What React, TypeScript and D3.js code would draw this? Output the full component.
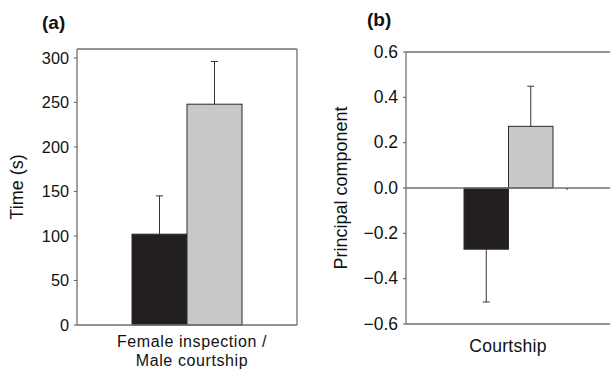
import React, { useEffect, useRef } from "react";
import * as d3 from "d3";

// series order: black bar first, grey bar second
const seriesColors = ["#231f20", "#c7c8ca"];

// panel (a)
const timeTicks = [0, 50, 100, 150, 200, 250, 300];
const timeMeans = [102, 248];
const timeErrTops = [145, 296];
const timeLabel = ["Female inspection /", "Male courtship"];

// panel (b)
const pcTicks = [-0.6, -0.4, -0.2, 0, 0.2, 0.4, 0.6];
const pcMeans = [-0.27, 0.272];
const pcErrEnds = [-0.503, 0.449];
const pcLabel = ["Courtship"];

const W = 610;
const H = 373;
const FONT = "'Liberation Sans', Arial, sans-serif";

export default function App() {
    const svgRef = useRef<SVGSVGElement | null>(null);

    useEffect(() => {
        document.body.style.margin = "0";
        if (!svgRef.current) return;
        const svg = d3.select(svgRef.current);
        svg.selectAll("*").remove();

        function label(
            g: d3.Selection<SVGGElement, unknown, null, undefined>,
            x: number, y: number, txt: string, anchor: string,
            size = 16, extra = ""
        ) {
            return g.append("text")
                .attr("transform", `translate(${x},${y})${extra}`)
                .attr("text-anchor", anchor)
                .attr("font-family", FONT)
                .attr("font-size", size)
                .attr("fill", "#111")
                .text(txt);
        }

        function drawPanel(opts: {
            left: number; right: number; top: number; bottom: number;
            domain: [number, number]; ticks: number[]; fmt: (d: number) => string; tickSize: number;
            means: number[]; errs: number[]; barX: [number, number];
            boxRight: boolean; zeroLine: boolean;
            yTitle: string; yTitleX: number; xLabel: string[]; xLabelX: number; xLabelY: number;
            tag: string; tagX: number; tagY: number;
        }) {
            const y = d3.scaleLinear().domain(opts.domain).range([opts.bottom, opts.top]);
            const x = d3.scaleBand<number>()
                .domain(opts.means.map((_, i) => i))
                .range(opts.barX)
                .paddingInner(0);
            const g = svg.append("g");

            // y ticks + labels
            opts.ticks.forEach(t => {
                g.append("line")
                    .attr("x1", opts.left - 3).attr("x2", opts.left)
                    .attr("y1", y(t)).attr("y2", y(t))
                    .attr("stroke", "#555");
                label(g, opts.left - 8, y(t) + 5.7, opts.fmt(t), "end", opts.tickSize);
            });

            // bars
            const y0 = y(0);
            g.selectAll("rect.bar")
                .data(opts.means)
                .join("rect")
                .attr("class", "bar")
                .attr("x", (_, i) => x(i)!)
                .attr("width", x.bandwidth())
                .attr("y", d => Math.min(y(d), y0))
                .attr("height", d => Math.abs(y(d) - y0))
                .attr("fill", (_, i) => seriesColors[i])
                .attr("stroke", "#2a2a2a")
                .attr("stroke-width", 1);

            // error bars
            const cap = 7;
            opts.means.forEach((m, i) => {
                const cx = x(i)! + x.bandwidth() / 2;
                g.append("line")
                    .attr("x1", cx).attr("x2", cx)
                    .attr("y1", y(m)).attr("y2", y(opts.errs[i]))
                    .attr("stroke", "#333").attr("stroke-width", 1);
                g.append("line")
                    .attr("x1", cx - cap / 2).attr("x2", cx + cap / 2)
                    .attr("y1", y(opts.errs[i])).attr("y2", y(opts.errs[i]))
                    .attr("stroke", "#333").attr("stroke-width", 1);
            });

            // frame
            const frameColor = "#707070";
            const hline = (yy: number) => g.append("line")
                .attr("x1", opts.left).attr("x2", opts.right)
                .attr("y1", yy).attr("y2", yy)
                .attr("stroke", frameColor).attr("stroke-width", 1.3);
            g.append("line")
                .attr("x1", opts.left).attr("x2", opts.left)
                .attr("y1", opts.top).attr("y2", opts.bottom)
                .attr("stroke", frameColor).attr("stroke-width", 1.3);
            hline(opts.top);
            hline(opts.bottom);
            if (opts.boxRight) {
                g.append("line")
                    .attr("x1", opts.right).attr("x2", opts.right)
                    .attr("y1", opts.top).attr("y2", opts.bottom)
                    .attr("stroke", frameColor).attr("stroke-width", 1.3);
            }
            if (opts.zeroLine) {
                hline(y0);
                // small category ticks on the zero line
                [opts.barX[1] + 14, opts.barX[1] + 58].forEach(tx => {
                    g.append("line")
                        .attr("x1", tx).attr("x2", tx)
                        .attr("y1", y0).attr("y2", y0 + 2)
                        .attr("stroke", "#444").attr("stroke-width", 1);
                });
            }

            // y title
            const yMid = (opts.top + opts.bottom) / 2;
            label(g, opts.yTitleX, yMid, opts.yTitle, "middle", 18, " rotate(-90)");

            // x label, one line per entry
            opts.xLabel.forEach((line, i) => {
                label(g, opts.xLabelX, opts.xLabelY + i * 18.5, line, "middle", opts.xLabel.length > 1 ? 16 : 17.5)
                    .attr("letter-spacing", opts.xLabel.length > 1 ? 0.6 : 0.3);
            });

            // panel tag
            label(g, opts.tagX, opts.tagY, opts.tag, "start", 19).attr("font-weight", "bold");
        }

        drawPanel({
            left: 77, right: 297, top: 49, bottom: 325,
            domain: [0, 310], ticks: timeTicks, fmt: d => String(d), tickSize: 16.3,
            means: timeMeans, errs: timeErrTops, barX: [132, 242],
            boxRight: true, zeroLine: false,
            yTitle: "Time (s)", yTitleX: 23, xLabel: timeLabel, xLabelX: 192, xLabelY: 347,
            tag: "(a)", tagX: 42, tagY: 29,
        });

        drawPanel({
            left: 406, right: 612, top: 52, bottom: 324,
            domain: [-0.6, 0.6], ticks: pcTicks, fmt: d3.format(".1f"), tickSize: 17.5,
            means: pcMeans, errs: pcErrEnds, barX: [464, 553],
            boxRight: false, zeroLine: true,
            yTitle: "Principal component", yTitleX: 347, xLabel: pcLabel, xLabelX: 508, xLabelY: 352,
            tag: "(b)", tagX: 367, tagY: 26,
        });
    }, []);

    return (
        <svg ref={svgRef} width={W} height={H} viewBox={`0 0 ${W} ${H}`}
            style={{ display: "block", background: "#fff" }} />
    );
}
